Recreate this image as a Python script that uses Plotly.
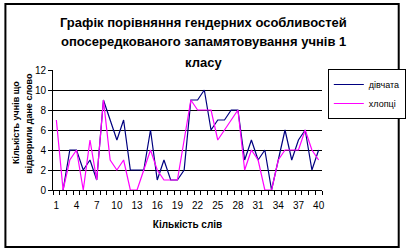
import plotly.graph_objects as go

words = list(range(1, 41))
girls = [None, 0, 4, 4, 2, 3, 1, 9, 7, 5, 7, 2, 2, 2, 6, 1, 3, 1, 1, 2,
         9, 9, 10, 6, 7, 7, 8, 8, 3, 5, 3, 4, 0, 3, 6, 3, 5, 6, 2, 4]
boys = [7, 0, 3, 4, 0, 5, 1, 9, 3, 2, 3, 0, 0, 2, 4, 2, 1, 1, 1, 5,
        9, 8, 8, 8, 5, 6, 7, 8, 2, 4, 3, 0, 0, 3, 4, 4, 4, 6, 4, 3]
x_ticks = list(range(1, 41, 3))
y_ticks = [0, 2, 4, 6, 8, 10, 12]
title_lines = ["Графік порівняння гендерних особливостей",
               "опосередкованого запамятовування учнів 1",
               "класу"]
y_title_lines = ["Кількість учнів що", "відворили дане слово"]

FONT = "Liberation Sans, Arial, sans-serif"
L, R, T, B = 53, 88, 70, 62
W, H = 418, 252
pw, ph = W - L - R, H - T - B

fig = go.Figure()
fig.add_trace(go.Scatter(x=words, y=girls, mode="lines", name="дівчата",
                         line=dict(color="#000080", width=1.2)))
fig.add_trace(go.Scatter(x=words, y=boys, mode="lines", name="хлопці",
                         line=dict(color="#FF00FF", width=1.2)))

def px_x(p):
    return (p - L) / pw

def px_y(p):
    return (T + ph - p) / ph

for txt, yp in zip(title_lines, [22, 42, 62]):
    fig.add_annotation(text="<b>%s</b>" % txt, xref="paper", yref="paper",
                       x=px_x(208), y=px_y(yp), xanchor="center", yanchor="middle",
                       showarrow=False, font=dict(family=FONT, size=13, color="black"))

for txt, xp in zip(y_title_lines, [15, 28]):
    fig.add_annotation(text="<b>%s</b>" % txt, xref="paper", yref="paper",
                       x=px_x(xp), y=px_y(123), xanchor="center", yanchor="middle",
                       textangle=-90, showarrow=False,
                       font=dict(family=FONT, size=9, color="black"))

fig.add_shape(type="rect", xref="paper", yref="paper",
              x0=px_x(4), x1=px_x(409), y0=px_y(247), y1=px_y(4),
              line=dict(color="black", width=2), fillcolor="rgba(0,0,0,0)", layer="below")

fig.update_layout(
    width=W, height=H,
    margin=dict(l=L, r=R, t=T, b=B),
    paper_bgcolor="white", plot_bgcolor="white",
    font=dict(family=FONT, size=10, color="black"),
    showlegend=True,
    legend=dict(x=px_x(336), y=px_y(69), xanchor="left", yanchor="top",
                bordercolor="black", borderwidth=1, bgcolor="white",
                font=dict(family=FONT, size=9, color="black"),
                itemwidth=30, tracegroupgap=0),
    xaxis=dict(range=[0.5, 40.5], tickmode="array", tickvals=x_ticks,
               ticktext=[str(v) for v in x_ticks], ticks="",
               ticklabelstandoff=6,
               showgrid=False, zeroline=False, showline=True, linecolor="black", linewidth=1,
               minor=dict(ticks="outside", tick0=0.5, dtick=1, ticklen=4,
                          tickcolor="black", showgrid=False),
               tickfont=dict(size=10),
               title=dict(text="<b>Кількість слів</b>", font=dict(size=10), standoff=10)),
    yaxis=dict(range=[0, 12], tickmode="array", tickvals=y_ticks,
               ticks="outside", ticklen=4, tickcolor="black",
               showgrid=True, gridcolor="black", gridwidth=1,
               zeroline=False, showline=True, linecolor="black", linewidth=1,
               tickfont=dict(size=10)),
)

fig.write_html("out.html")
